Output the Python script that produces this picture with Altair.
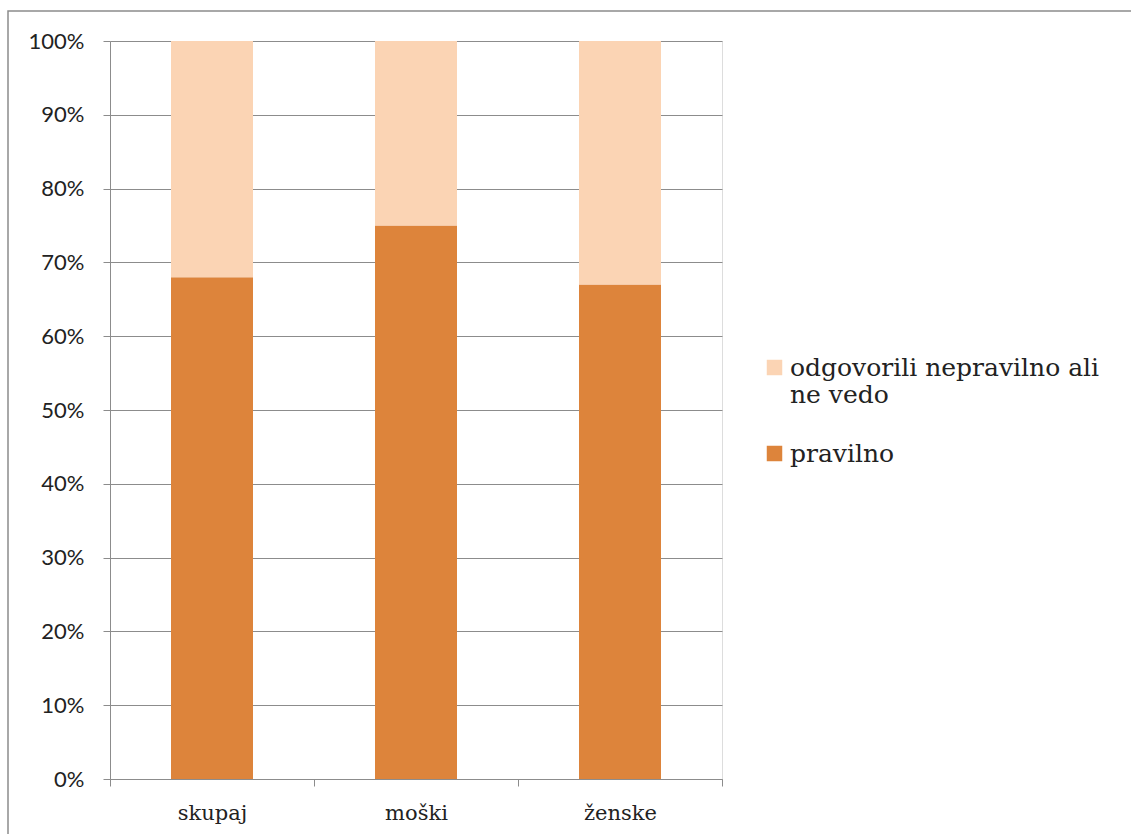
import altair as alt
import pandas as pd

categories = ["skupaj", "moški", "ženske"]
series_names = ["pravilno", "odgovorili nepravilno ali ne vedo"]
pravilno = [0.68, 0.75, 0.67]
nepravilno = [0.32, 0.25, 0.33]
y_ticks = [0, 0.1, 0.2, 0.3, 0.4, 0.5, 0.6, 0.7, 0.8, 0.9, 1.0]

rows = []
for i, c in enumerate(categories):
    rows.append({"cat": c, "series": series_names[0], "value": pravilno[i], "order": 0})
    rows.append({"cat": c, "series": series_names[1], "value": nepravilno[i], "order": 1})
df = pd.DataFrame(rows)

W, H = 612, 738
GRAY = "#8c8c8c"
SANS = "Lato"
SERIF = "DejaVu Serif"

bars = alt.Chart(df).mark_bar(size=82).encode(
    x=alt.X("cat:N", sort=categories, title=None,
            scale=alt.Scale(paddingInner=0, paddingOuter=0),
            axis=alt.Axis(labelAngle=0, tickBand="extent", grid=False,
                          domainColor=GRAY, tickColor=GRAY, tickSize=7,
                          labelFont=SERIF, labelFontSize=21, labelColor="#222222",
                          labelBaseline="top", labelPadding=16)),
    y=alt.Y("value:Q", stack="zero", title=None,
            scale=alt.Scale(domain=[0, 1], nice=False),
            axis=alt.Axis(values=y_ticks, format=".0%", grid=True, gridColor=GRAY,
                          domainColor=GRAY, tickColor=GRAY, tickSize=7,
                          labelFont=SANS, labelFontSize=22, labelColor="#222222",
                          labelPadding=19)),
    color=alt.Color("series:N",
                    scale=alt.Scale(domain=[series_names[1], series_names[0]],
                                    range=["#FBD4B4", "#DD843B"]),
                    legend=alt.Legend(title=None, orient="none", legendX=652, legendY=314,
                                      symbolType="square", symbolSize=240,
                                      symbolStrokeWidth=0,
                                      labelFont=SERIF, labelFontSize=25,
                                      labelColor="#222222", labelLimit=500,
                                      labelBaseline="middle",
                                      labelExpr="datum.label == 'odgovorili nepravilno ali ne vedo' ? ['odgovorili nepravilno ali', 'ne vedo'] : datum.label",
                                      rowPadding=33, labelOffset=3)),
    order=alt.Order("order:Q"),
)

border = alt.Chart(alt.Data(values=[{}])).mark_rect(
    fill=None, stroke=GRAY, strokeWidth=1.5
).encode(x=alt.value(-102), y=alt.value(-30), x2=alt.value(1300), y2=alt.value(1000))

chart = alt.layer(border, bars).properties(
    width=W, height=H,
    autosize=alt.AutoSizeParams(type="none"),
    padding={"left": 110, "top": 41, "right": 409, "bottom": 55},
).configure_view(stroke=None).configure(background="white")

chart.save("out.html", embed_options={"renderer": "svg", "actions": False})
